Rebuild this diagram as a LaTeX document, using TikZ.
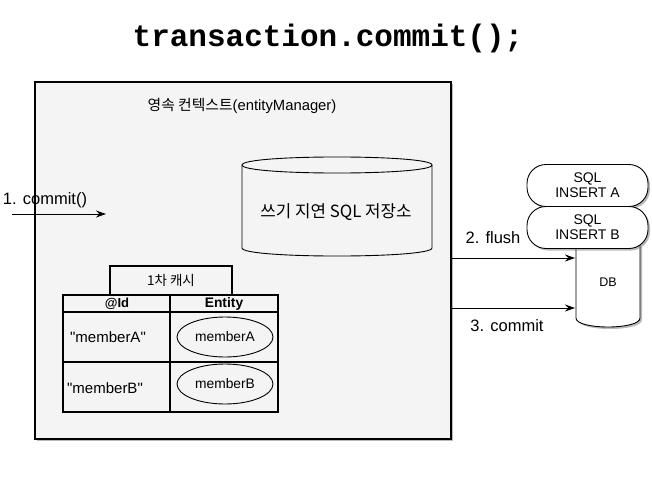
\documentclass[tikz,border=0pt]{standalone}
\usepackage{fontspec}
\setmainfont{Liberation Sans}
\newfontfamily\plainsans{Liberation Sans}
\newfontfamily\krfont{Noto Sans CJK KR}
\newfontfamily\codefont{Liberation Mono}
\usetikzlibrary{shadows,arrows.meta,shapes.geometric}
\definecolor{boxgray}{HTML}{F4F4F4}
\begin{document}
\begin{tikzpicture}[x=1pt,y=-1pt,
  shd/.style={drop shadow={shadow xshift=2pt,shadow yshift=-2pt,opacity=0.45,fill=black!60}},
  arr/.style={-{Stealth[length=10pt,width=7pt]},line width=0.9pt},
  lbl/.style={font=\fontsize{16.5}{18}\selectfont,inner sep=0pt},
  sqlbox/.style={draw,line width=0.9pt,fill=white,rounded corners=19pt,minimum width=121pt,minimum height=42pt,align=center,inner sep=0pt,font=\fontsize{14}{15}\selectfont,shd},
  cell/.style={inner sep=0pt,font=\plainsans\fontsize{15}{17}\selectfont},
  ent/.style={draw,ellipse,line width=0.9pt,minimum width=96pt,minimum height=40pt,inner sep=0pt,font=\fontsize{13.8}{16}\selectfont}]
\useasboundingbox (0,0) rectangle (652,489);
% title
\node[font=\codefont\bfseries\fontsize{31}{32}\selectfont,inner sep=0pt] (title) at (328,38) {transaction.commit();};
% persistence context box
\node[draw,line width=1.4pt,fill=boxgray,minimum width=416pt,minimum height=357pt,inner sep=0pt,shd] (pc) at (243,260.5) {};
\node[font=\fontsize{14.8}{17}\selectfont,inner sep=0pt] (pctitle) at (242,106) {{\krfont 영속 컨텍스트}(entityManager)};
% write-behind SQL store cylinder
\draw[line width=0.9pt] (242,165) -- (242,248) .. controls (242,258.7) and (432,258.7) .. (432,248) -- (432,165);
\draw[line width=0.9pt] (242,165) .. controls (242,154.3) and (432,154.3) .. (432,165) .. controls (432,175.7) and (242,175.7) .. (242,165);
\node[font=\krfont\fontsize{16.8}{19}\selectfont,inner sep=0pt] (store) at (336,212) {쓰기 지연 SQL 저장소};
% commit arrow
\coordinate (c1s) at (12,214);
\coordinate (c1e) at (106,214);
\draw[arr] (c1s) -- (c1e);
\node[lbl] (c1l) at (45,200) {1. commit()};
% first-level cache
\node[draw,line width=1.1pt,fill=boxgray,minimum width=122pt,minimum height=29pt,inner sep=0pt,font=\krfont\fontsize{13.5}{15}\selectfont] (tab) at (171,280.5) {1차 캐시};
\draw[line width=1.2pt] (63,295) rectangle (278,412);
\draw[line width=1.2pt] (63,312) -- (278,312);
\draw[line width=1.2pt] (63,362) -- (278,362);
\draw[line width=1.2pt] (170,295) -- (170,412);
\node[cell,font=\bfseries\fontsize{13}{15}\selectfont] (hid) at (117,303.5) {@Id};
\node[cell,font=\bfseries\fontsize{13.8}{15}\selectfont] (hent) at (224,303.5) {Entity};
\node[cell] (ida) at (108,337) {"memberA"};
\node[cell] (idb) at (105,388) {"memberB"};
\node[ent] (ea) at (225,337) {memberA};
\node[ent] (eb) at (225,384) {memberB};
% DB cylinder
\path[fill=white,draw,line width=0.9pt,shd] (576,245) -- (576,318) .. controls (576,330) and (640,330) .. (640,318) -- (640,245) -- cycle;
\node[inner sep=0pt,font=\fontsize{12.5}{14}\selectfont] (db) at (608,282) {DB};
\node[sqlbox] (sqla) at (587.5,185.5) {SQL\\INSERT A};
\node[sqlbox] (sqlb) at (587.5,227.5) {SQL\\INSERT B};
% flush / commit arrows
\coordinate (f1) at (452,258);
\coordinate (f2) at (575,258);
\coordinate (k1) at (452,308);
\coordinate (k2) at (575,308);
\draw[arr] (f1) -- (f2);
\draw[arr] (k1) -- (k2);
\node[lbl] (fl) at (493,238) {2. flush};
\node[lbl] (kl) at (507,326) {3. commit};
\end{tikzpicture}
\end{document}
